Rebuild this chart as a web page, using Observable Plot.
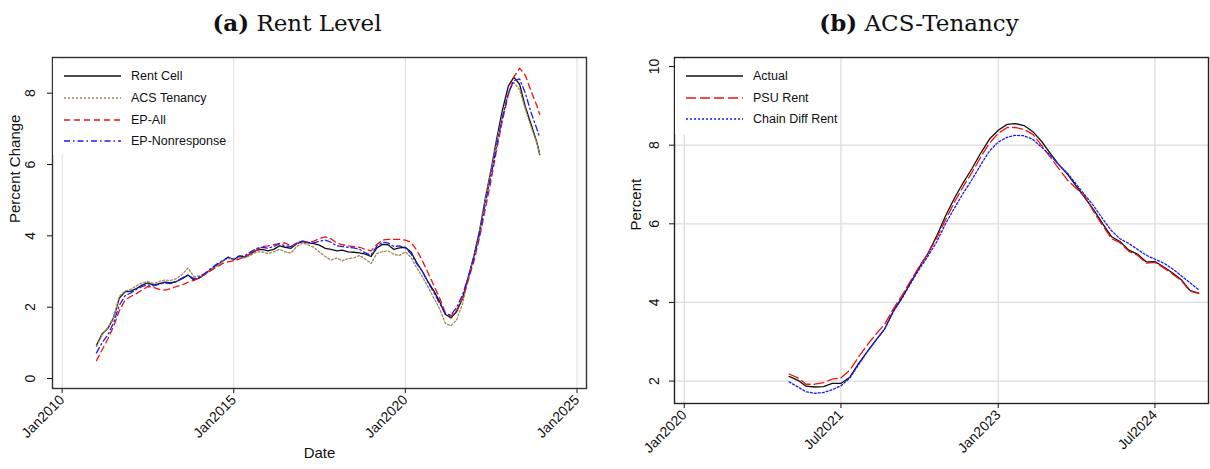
<!DOCTYPE html>
<html><head><meta charset="utf-8">
<script src="https://cdn.jsdelivr.net/npm/d3@7"></script>
<script src="https://cdn.jsdelivr.net/npm/@observablehq/plot@0.6"></script>
<style>
body{margin:0;background:#fff;}
#wrap{position:relative;width:1210px;height:469px;overflow:hidden;font-family:"Liberation Sans",Arial,sans-serif;background:#fff;}
.panel{position:absolute;top:0;width:605px;height:469px;}
.panel svg{position:absolute;left:0;top:0;}
.title{position:absolute;top:11px;font-family:"DejaVu Serif",serif;font-size:23px;line-height:1;white-space:nowrap;transform:translateX(-50%);color:#111;}
.title b{font-weight:bold;}
.legend{position:absolute;background:#fff;}
.legend .row{position:absolute;left:0;height:16px;}
.legend svg{position:absolute;top:0;left:0;}
.legend span{position:absolute;font-size:12.5px;line-height:16px;white-space:nowrap;color:#111;}
</style>
</head><body>
<div id="wrap">
  <div class="panel" id="pa" style="left:0"></div>
  <div class="panel" id="pb" style="left:605px"></div>
</div>
<script>
// ---------- Panel (a): Rent Level (bi-monthly, 2011-01 .. 2023-11, plus 2023-12) ----------
const datesA = [];
for (let y = 2011; y <= 2023; y++) for (const m of ["01","03","05","07","09","11"]) datesA.push(`${y}-${m}`);
datesA.push("2023-12");

const rentCell = [
  0.93,1.25,1.40,1.70,2.25,2.43,
  2.45,2.52,2.62,2.68,2.62,2.66,
  2.70,2.68,2.72,2.80,2.90,2.76,
  2.82,2.93,3.05,3.17,3.28,3.40,
  3.33,3.44,3.40,3.50,3.60,3.62,
  3.58,3.62,3.72,3.68,3.65,3.78,
  3.84,3.80,3.78,3.74,3.65,3.62,
  3.58,3.60,3.55,3.54,3.52,3.49,
  3.42,3.65,3.76,3.75,3.62,3.66,
  3.68,3.55,3.25,3.00,2.70,2.45,
  2.15,1.80,1.70,1.88,2.25,2.85,
  3.45,4.15,5.05,5.85,6.75,7.55,
  8.20,8.45,8.25,7.62,7.12,6.62,
  6.28];
const acsTenancy = [
  0.90,1.22,1.42,1.70,2.30,2.45,
  2.50,2.60,2.68,2.72,2.66,2.72,
  2.76,2.75,2.80,2.92,3.10,2.86,
  2.88,2.95,3.05,3.15,3.28,3.38,
  3.32,3.38,3.38,3.46,3.55,3.55,
  3.50,3.55,3.62,3.55,3.52,3.70,
  3.80,3.75,3.68,3.55,3.42,3.32,
  3.38,3.30,3.36,3.38,3.45,3.35,
  3.22,3.50,3.56,3.58,3.48,3.45,
  3.55,3.40,3.10,2.85,2.55,2.25,
  1.95,1.55,1.48,1.65,2.10,2.80,
  3.40,4.10,5.00,5.80,6.65,7.40,
  8.05,8.30,8.10,7.55,7.05,6.60,
  6.30];
const epAll = [
  0.50,0.80,1.10,1.45,1.90,2.20,
  2.30,2.38,2.48,2.58,2.55,2.50,
  2.48,2.52,2.58,2.62,2.70,2.75,
  2.82,2.92,3.02,3.12,3.22,3.27,
  3.30,3.35,3.42,3.50,3.60,3.70,
  3.72,3.75,3.78,3.80,3.72,3.78,
  3.85,3.82,3.85,3.92,3.97,3.92,
  3.80,3.75,3.72,3.70,3.68,3.62,
  3.58,3.75,3.88,3.90,3.90,3.90,
  3.88,3.82,3.60,3.30,2.95,2.60,
  2.25,1.85,1.75,1.92,2.25,2.75,
  3.30,3.95,4.75,5.55,6.45,7.25,
  7.95,8.45,8.70,8.50,8.05,7.65,
  7.40];
const epNonresponse = [
  0.72,1.00,1.22,1.55,2.05,2.32,
  2.40,2.50,2.58,2.62,2.60,2.65,
  2.68,2.66,2.72,2.82,2.90,2.80,
  2.85,2.95,3.08,3.20,3.30,3.40,
  3.35,3.42,3.45,3.55,3.65,3.68,
  3.65,3.70,3.78,3.72,3.70,3.80,
  3.85,3.82,3.80,3.85,3.88,3.82,
  3.72,3.70,3.68,3.66,3.62,3.52,
  3.46,3.70,3.82,3.80,3.70,3.72,
  3.66,3.50,3.22,3.00,2.68,2.40,
  2.10,1.82,1.78,2.00,2.35,2.85,
  3.40,4.05,4.90,5.70,6.55,7.35,
  8.00,8.35,8.40,8.00,7.45,7.00,
  6.75];
const xTicksA = ["2010-01","2015-01","2020-01","2025-01"];
const yTicksA = [0, 2, 4, 6, 8];

// ---------- Panel (b): ACS-Tenancy (monthly, 2021-01 .. 2024-12) ----------
const datesB = [];
for (let y = 2021; y <= 2024; y++) for (let m = 1; m <= 12; m++) datesB.push(`${y}-${String(m).padStart(2,"0")}`);
const actual = [
  2.12,2.02,1.87,1.85,1.86,1.94,1.94,2.10,2.45,2.75,3.05,3.33,
  3.80,4.15,4.50,4.90,5.25,5.70,6.20,6.65,7.05,7.40,7.80,8.15,
  8.38,8.53,8.55,8.50,8.35,8.10,7.80,7.50,7.25,6.95,6.65,6.35,
  6.00,5.67,5.55,5.33,5.23,5.03,5.04,4.90,4.75,4.58,4.30,4.24];
const psuRent = [
  2.18,2.08,1.92,1.92,1.96,2.05,2.08,2.28,2.62,2.92,3.20,3.45,
  3.85,4.20,4.55,4.92,5.25,5.65,6.10,6.55,6.95,7.30,7.70,8.05,
  8.30,8.45,8.45,8.40,8.28,8.00,7.70,7.40,7.10,6.90,6.68,6.30,
  5.95,5.62,5.52,5.30,5.20,5.00,5.02,4.88,4.72,4.56,4.28,4.23];
const chainDiffRent = [
  1.98,1.85,1.73,1.69,1.71,1.78,1.88,2.08,2.42,2.75,3.05,3.33,
  3.78,4.12,4.48,4.85,5.18,5.55,6.00,6.40,6.78,7.12,7.50,7.85,
  8.08,8.20,8.25,8.24,8.15,7.95,7.75,7.50,7.28,7.00,6.72,6.45,
  6.12,5.82,5.62,5.50,5.35,5.20,5.10,5.00,4.85,4.68,4.50,4.32];
const xTicksB = ["2020-01","2021-07","2023-01","2024-07"];
const yTicksB = [2, 4, 6, 8, 10];
const yGridB = [2, 4, 6, 8];

// ---------- helpers ----------
const parse = d3.utcParse("%Y-%m");
const fmt = d3.utcFormat("%b%Y");
const FONT = "Liberation Sans, Arial, sans-serif";
function rows(dates, values) { return dates.map((d, i) => ({date: parse(d), value: values[i]})); }

const seriesA = [
  {name: "Rent Cell", values: rentCell, stroke: "#111", dash: null, w: 1.3},
  {name: "ACS Tenancy", values: acsTenancy, stroke: "#9c8a5a", dash: "2,2", w: 1.3},
  {name: "EP-All", values: epAll, stroke: "#f01010", dash: "6,4", w: 1.3},
  {name: "EP-Nonresponse", values: epNonresponse, stroke: "#1a1aff", dash: "6,3,1.5,3", w: 1.3}
];
const seriesB = [
  {name: "Actual", values: actual, stroke: "#111", dash: null, w: 1.3},
  {name: "PSU Rent", values: psuRent, stroke: "#f01010", dash: "10,4", w: 1.3},
  {name: "Chain Diff Rent", values: chainDiffRent, stroke: "#1a1aff", dash: "2,2", w: 1.3}
];

function lineMarks(dates, series) {
  return series.map(s => Plot.line(rows(dates, s.values), {
    x: "date", y: "value", stroke: s.stroke, strokeWidth: s.w,
    strokeDasharray: s.dash || undefined, strokeLinejoin: "round"
  }));
}

// ---------- Plot (a) ----------
const plotA = Plot.plot({
  width: 605, height: 469,
  marginTop: 57, marginLeft: 52, marginRight: 19, marginBottom: 81,
  style: {fontFamily: FONT, background: "transparent", color: "#111"},
  x: {type: "utc", domain: [new Date(Date.UTC(2009, 8, 20)), new Date(Date.UTC(2025, 3, 12))]},
  y: {domain: [-0.28, 9.0]},
  marks: [
    Plot.gridX(xTicksA.map(parse), {stroke: "#dcdcdc", strokeOpacity: 1}),
    Plot.axisX(xTicksA.map(parse), {tickFormat: fmt, tickRotate: -45, textAnchor: "end", lineAnchor: "middle",
      fontSize: 14, tickSize: 5, tickPadding: 4, label: null}),
    Plot.axisY(yTicksA, {tickRotate: -90, textAnchor: "middle", lineAnchor: "bottom",
      fontSize: 14, tickSize: 5, tickPadding: 13, label: null}),
    ...lineMarks(datesA, seriesA),
    Plot.frame({stroke: "#333", strokeWidth: 1.4}),
    Plot.text(["Date"], {frameAnchor: "bottom", dy: 69, fontSize: 15}),
    Plot.text(["Percent Change"], {frameAnchor: "left", dx: -37, rotate: -90, fontSize: 15})
  ]
});

// ---------- Plot (b) ----------
const plotB = Plot.plot({
  width: 605, height: 469,
  marginTop: 57, marginLeft: 69, marginRight: 2, marginBottom: 66,
  style: {fontFamily: FONT, background: "transparent", color: "#111"},
  x: {type: "utc", domain: [new Date(Date.UTC(2019, 10, 28)), new Date(Date.UTC(2025, 0, 4))]},
  y: {domain: [1.43, 10.23]},
  marks: [
    Plot.gridX(xTicksB.map(parse), {stroke: "#dcdcdc", strokeOpacity: 1, strokeWidth: 1.3}),
    Plot.gridY(yGridB, {stroke: "#dcdcdc", strokeOpacity: 1, strokeWidth: 1.3}),
    Plot.axisX(xTicksB.map(parse), {tickFormat: fmt, tickRotate: -45, textAnchor: "end", lineAnchor: "middle",
      fontSize: 14, tickSize: 5, tickPadding: 4, label: null}),
    Plot.axisY(yTicksB, {tickRotate: -90, textAnchor: "middle", lineAnchor: "bottom",
      fontSize: 14, tickSize: 5, tickPadding: 11, label: null}),
    ...lineMarks(datesB, seriesB),
    Plot.frame({stroke: "#222", strokeWidth: 1.4}),
    Plot.text(["Percent"], {frameAnchor: "left", dx: -38, rotate: -90, fontSize: 15})
  ]
});

document.getElementById("pa").appendChild(plotA);
document.getElementById("pb").appendChild(plotB);

// ---------- titles ----------
function title(panel, html, cx) {
  const t = document.createElement("div");
  t.className = "title"; t.innerHTML = html; t.style.left = cx + "px";
  document.getElementById(panel).appendChild(t);
}
title("pa", "<b>(a)</b> Rent Level", 297);
title("pb", "<b>(b)</b> ACS-Tenancy", 314);

// ---------- legends ----------
function legend(panel, series, box, rowYs, sample, textX) {
  const L = document.createElement("div");
  L.className = "legend";
  Object.assign(L.style, {left: box.x + "px", top: box.y + "px", width: box.w + "px", height: box.h + "px"});
  series.forEach((s, i) => {
    const r = document.createElement("div");
    r.className = "row";
    r.style.top = (rowYs[i] - box.y - 8) + "px";
    r.style.width = box.w + "px";
    const ns = "http://www.w3.org/2000/svg";
    const svg = document.createElementNS(ns, "svg");
    svg.setAttribute("width", box.w); svg.setAttribute("height", 16);
    const ln = document.createElementNS(ns, "line");
    ln.setAttribute("x1", sample[0] - box.x); ln.setAttribute("x2", sample[1] - box.x);
    ln.setAttribute("y1", 8); ln.setAttribute("y2", 8);
    ln.setAttribute("stroke", s.stroke); ln.setAttribute("stroke-width", 1.5);
    if (s.dash) ln.setAttribute("stroke-dasharray", s.dash);
    svg.appendChild(ln); r.appendChild(svg);
    const sp = document.createElement("span");
    sp.textContent = s.name; sp.style.left = (textX - box.x) + "px"; sp.style.top = "0px";
    r.appendChild(sp);
    L.appendChild(r);
  });
  document.getElementById(panel).appendChild(L);
}
legend("pa", seriesA, {x: 53, y: 59, w: 178, h: 96}, [76, 98, 120, 141], [64, 121], 131);
legend("pb", seriesB, {x: 70, y: 60, w: 162, h: 74}, [76, 98, 119], [81, 138], 148);
</script>
</body></html>
